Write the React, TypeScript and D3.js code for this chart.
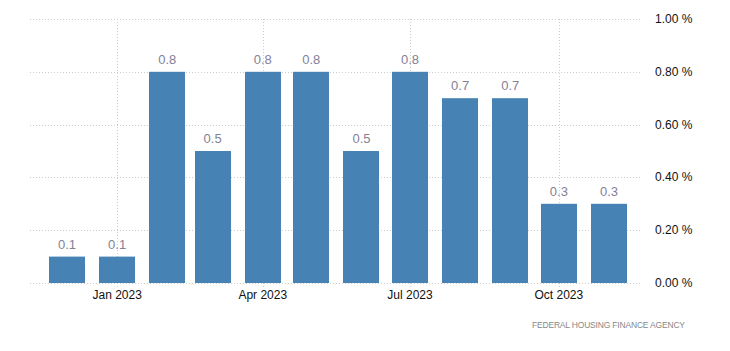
import React, { useRef, useEffect } from "react";
import * as d3 from "d3";

const months = ["2022-12", "2023-01", "2023-02", "2023-03", "2023-04", "2023-05", "2023-06", "2023-07", "2023-08", "2023-09", "2023-10", "2023-11"];
const values = [0.1, 0.1, 0.8, 0.5, 0.8, 0.8, 0.5, 0.8, 0.7, 0.7, 0.3, 0.3];
const yTicks = [0, 0.2, 0.4, 0.6, 0.8, 1.0];
const xTicks = ["2023-01", "2023-04", "2023-07", "2023-10"];
const source = "FEDERAL HOUSING FINANCE AGENCY";

const parse = d3.timeParse("%Y-%m");

const App = () => {
  const svgRef = useRef<SVGSVGElement>(null);

  useEffect(() => {
    const width = 730, height = 351;
    const svg = d3.select(svgRef.current)
      .attr("width", width)
      .attr("height", height)
      .style("display", "block");

    svg.selectAll("*").remove();

    const x = d3.scaleTime()
      .domain([parse("2022-12")!, parse("2023-11")!])
      .range([67, 609]);

    const y = d3.scaleLinear()
      .domain([0, 1])
      .range([283, 19]);

    const left = 30, right = 640;
    const barW = 36;
    const font = "'Liberation Sans', Arial, sans-serif";

    // horizontal grid
    svg.append("g")
      .selectAll("line")
      .data(yTicks)
      .enter()
      .append("line")
      .attr("x1", left)
      .attr("x2", right)
      .attr("y1", d => Math.round(y(d)) + 0.5)
      .attr("y2", d => Math.round(y(d)) + 0.5)
      .attr("stroke", "#cccccc")
      .attr("stroke-dasharray", "1,2");

    // vertical grid
    svg.append("g")
      .selectAll("line")
      .data(xTicks)
      .enter()
      .append("line")
      .attr("x1", d => Math.round(x(parse(d)!)) + 0.5)
      .attr("x2", d => Math.round(x(parse(d)!)) + 0.5)
      .attr("y1", y(1))
      .attr("y2", y(0) + 5)
      .attr("stroke", "#cccccc")
      .attr("stroke-dasharray", "1,2");

    // bars
    svg.append("g")
      .selectAll("rect")
      .data(values)
      .enter()
      .append("rect")
      .attr("x", (d, i) => Math.round(x(parse(months[i])!) - barW / 2))
      .attr("y", d => y(d))
      .attr("width", barW)
      .attr("height", d => y(0) - y(d))
      .attr("fill", "#4682b4");

    // value labels
    svg.append("g")
      .selectAll("text")
      .data(values)
      .enter()
      .append("text")
      .attr("x", (d, i) => x(parse(months[i])!))
      .attr("y", d => y(d) - 8)
      .attr("text-anchor", "middle")
      .style("font-family", font)
      .style("font-size", "13px")
      .attr("fill", "#848196")
      .text(d => d.toFixed(1));

    // y axis labels
    svg.append("g")
      .selectAll("text")
      .data(yTicks)
      .enter()
      .append("text")
      .attr("x", 655)
      .attr("y", d => y(d) + 4)
      .style("font-family", font)
      .style("font-size", "12px")
      .attr("fill", "#111111")
      .text(d => d3.format(".2f")(d) + " %");

    // x axis labels
    const fmt = d3.timeFormat("%b %Y");
    svg.append("g")
      .selectAll("text")
      .data(xTicks)
      .enter()
      .append("text")
      .attr("x", d => x(parse(d)!))
      .attr("y", 299)
      .attr("text-anchor", "middle")
      .style("font-family", font)
      .style("font-size", "12px")
      .attr("fill", "#111111")
      .text(d => fmt(parse(d)!));

    // source
    svg.append("text")
      .attr("x", 532)
      .attr("y", 328)
      .attr("textLength", 153)
      .attr("lengthAdjust", "spacing")
      .style("font-family", font)
      .style("font-size", "8.5px")
      .attr("fill", "#888888")
      .text(source);
  }, []);

  return (
    <div style={{ position: "absolute", left: 0, top: 0 }}>
      <svg ref={svgRef}></svg>
    </div>
  );
};

export default App;
